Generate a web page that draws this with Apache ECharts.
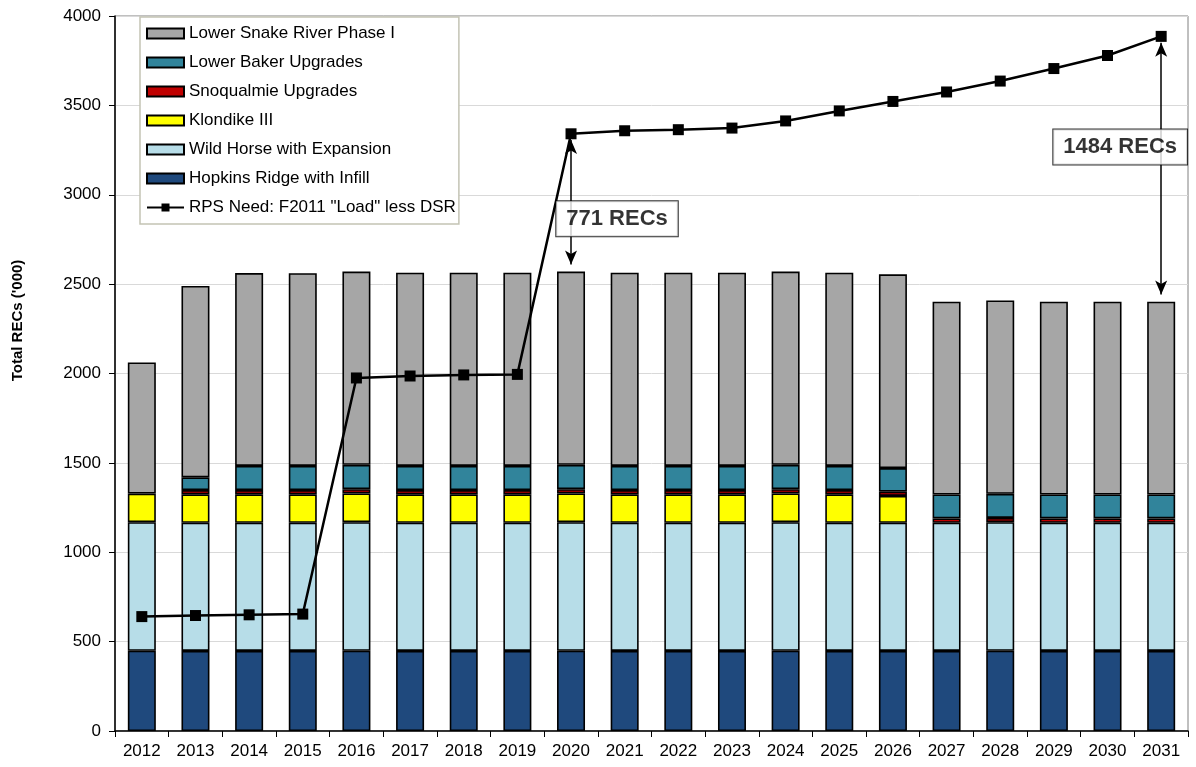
<!DOCTYPE html>
<html>
<head>
<meta charset="utf-8">
<script src="https://cdn.jsdelivr.net/npm/echarts@6/dist/echarts.min.js"></script>
<style>
  html, body { margin: 0; padding: 0; background: #fff; }
  #chart { width: 1196px; height: 767px; }
</style>
</head>
<body>
<div id="chart"></div>
<script>
// Renewable resources stacked by year, against the RPS requirement line
const years = ['2012','2013','2014','2015','2016','2017','2018','2019','2020','2021',
               '2022','2023','2024','2025','2026','2027','2028','2029','2030','2031'];

const hopkinsRidge = [449,448,448,448,449,448,448,448,449,448,448,448,449,448,448,448,449,448,448,448];
const wildHorse    = [719,717,717,717,719,717,717,717,719,717,717,717,719,717,717,717,719,717,717,717];
const klondike     = [160,159,159,159,161,159,159,159,161,159,159,159,161,159,150,null,null,null,null,null];
const snoqualmie   = [null,24,24,24,24,24,24,24,24,24,24,24,24,24,24,24,24,24,24,24];
const lowerBaker   = [null,71,135,135,136,135,135,135,136,135,135,135,136,135,132,134,135,134,134,134];
const lowerSnake   = [734,1071,1079,1078,1081,1081,1081,1081,1081,1081,1081,1081,1081,1081,1084,1079,1082,1079,1079,1079];

const rpsNeed = [640,646,650,654,1975,1986,1992,1995,3341,3358,3364,3373,3413,3469,3522,3575,3636,3706,3779,3886];

const yTicks = { min: 0, max: 4000, interval: 500 };

// Years where the shortfall between need and resources is called out
const calloutYears = ['2020','2031'];
const calloutOffsets = [[46, 16], [-41, -22]];

const totals = years.map((_, i) =>
  [hopkinsRidge, wildHorse, klondike, snoqualmie, lowerBaker, lowerSnake]
    .reduce((s, arr) => s + (arr[i] || 0), 0));

const FONT = '"Liberation Sans", Arial, sans-serif';

function barSeries(name, data, color) {
  return {
    name, type: 'bar', stack: 'recs', data,
    barWidth: 28,
    itemStyle: { color, borderColor: '#000', borderWidth: 1.6 },
    emphasis: { disabled: true }
  };
}

const arrowLines = calloutYears.map(y => {
  const i = years.indexOf(y);
  return [
    { coord: [y, totals[i] + 40] },
    { coord: [y, rpsNeed[i] - 35] }
  ];
});

const calloutPoints = calloutYears.map((y, k) => {
  const i = years.indexOf(y);
  return {
    value: [y, (totals[i] + rpsNeed[i]) / 2],
    label: {
      offset: calloutOffsets[k],
      formatter: (rpsNeed[i] - totals[i]) + ' RECs'
    }
  };
});

const barLegend = name => ({ name, icon: 'rect' });

const chart = echarts.init(document.getElementById('chart'), null, { renderer: 'canvas' });

chart.setOption({
  animation: false,
  textStyle: { fontFamily: FONT },
  grid: {
    left: 115, right: 8, top: 16, bottom: 36,
    show: true, borderColor: '#808080', borderWidth: 1, backgroundColor: 'transparent'
  },
  legend: {
    orient: 'vertical',
    left: 140, top: 17,
    padding: [8, 3, 8, 6],
    itemWidth: 37, itemHeight: 10, itemGap: 12,
    backgroundColor: '#fff',
    borderColor: '#c4c4b4', borderWidth: 1.5,
    textStyle: { fontSize: 17, color: '#000', fontFamily: FONT },
    data: [barLegend('Lower Snake River Phase I'), barLegend('Lower Baker Upgrades'),
           barLegend('Snoqualmie Upgrades'), barLegend('Klondike III'),
           barLegend('Wild Horse with Expansion'), barLegend('Hopkins Ridge with Infill'),
           { name: 'RPS Need: F2011 "Load" less DSR' }]
  },
  xAxis: {
    type: 'category',
    data: years,
    axisLine: { lineStyle: { color: '#000', width: 1.5 } },
    axisTick: { show: true, length: 6, lineStyle: { color: '#000' } },
    axisLabel: { fontSize: 17, color: '#000', margin: 12 }
  },
  yAxis: {
    type: 'value',
    min: yTicks.min, max: yTicks.max, interval: yTicks.interval,
    name: "Total RECs ('000)",
    nameLocation: 'middle', nameGap: 90, nameRotate: 90,
    nameTextStyle: { fontSize: 15, fontWeight: 'bold', color: '#000', padding: [0, 0, 0, 106] },
    axisLine: { show: true, lineStyle: { color: '#000', width: 1.5 } },
    axisTick: { show: true, length: 6, lineStyle: { color: '#000' } },
    axisLabel: { fontSize: 17, color: '#000', margin: 14, formatter: v => String(v) },
    splitLine: { lineStyle: { color: '#d9d9d9', width: 1 } }
  },
  series: [
    barSeries('Hopkins Ridge with Infill', hopkinsRidge, '#1f497d'),
    barSeries('Wild Horse with Expansion', wildHorse, '#b7dde8'),
    barSeries('Klondike III', klondike, '#ffff00'),
    barSeries('Snoqualmie Upgrades', snoqualmie, '#c00000'),
    barSeries('Lower Baker Upgrades', lowerBaker, '#31849b'),
    barSeries('Lower Snake River Phase I', lowerSnake, '#a6a6a6'),
    {
      name: 'RPS Need: F2011 "Load" less DSR',
      type: 'line',
      data: rpsNeed,
      symbol: 'rect', symbolSize: 11,
      lineStyle: { color: '#000', width: 2.5 },
      itemStyle: { color: '#000' },
      emphasis: { disabled: true },
      z: 5,
      markLine: {
        silent: true,
        symbol: ['arrow', 'arrow'],
        symbolSize: [9, 14],
        label: { show: false },
        lineStyle: { color: '#000', width: 1.5, type: 'solid' },
        emphasis: { disabled: true },
        data: arrowLines
      }
    },
    {
      name: 'callouts',
      type: 'scatter',
      symbolSize: 0,
      z: 10,
      silent: true,
      data: calloutPoints,
      label: {
        show: true,
        position: 'inside',
        fontSize: 22, fontWeight: 'bold', color: '#000',
        backgroundColor: '#fff',
        borderColor: '#000', borderWidth: 1,
        padding: [7, 10, 6, 10]
      }
    }
  ]
});
</script>
</body>
</html>
